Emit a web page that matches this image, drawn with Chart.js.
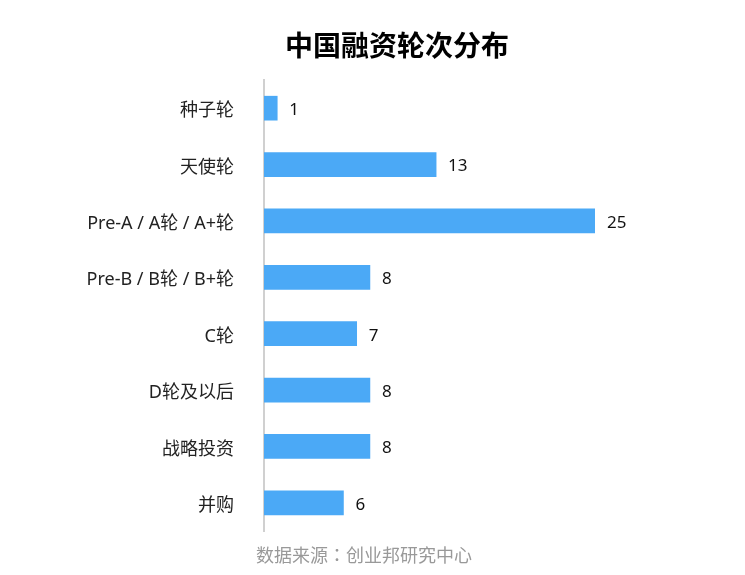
<!DOCTYPE html>
<html>
<head>
<meta charset="utf-8">
<script src="https://cdn.jsdelivr.net/npm/chart.js@4/dist/chart.umd.min.js"></script>
<style>
  html, body { margin: 0; padding: 0; background: #fff; }
  #wrap { width: 745px; height: 575px; }
</style>
</head>
<body>
<div id="wrap"><canvas id="c"></canvas></div>
<script>
// data
const rounds = ['种子轮', '天使轮', 'Pre-A / A轮 / A+轮', 'Pre-B / B轮 / B+轮', 'C轮', 'D轮及以后', '战略投资', '并购']
const counts = [1, 13, 25, 8, 7, 8, 8, 6]
const titleText = '中国融资轮次分布'
const sourceText = '数据来源：创业邦研究中心'

const FONT = '"Noto Sans", "Noto Sans CJK SC", sans-serif'
const CJK = '"Noto Sans CJK SC", sans-serif'

// value labels next to each bar, plus title and source note
const textPlugin = {
    id: 'texts',
    afterDatasetsDraw(chart) {
        const ctx = chart.ctx
        ctx.save()
        ctx.font = '17px ' + FONT
        ctx.fillStyle = '#111'
        ctx.textAlign = 'left'
        ctx.textBaseline = 'middle'
        chart.getDatasetMeta(0).data.forEach((bar, i) => {
            ctx.fillText(String(counts[i]), bar.x + 12, bar.y + 2)
        })

        ctx.textAlign = 'center'
        ctx.font = 'bold 28px ' + CJK
        ctx.fillStyle = '#000'
        ctx.fillText(titleText, 397, 45)

        ctx.font = '18px "Noto Sans CJK TC", sans-serif'
        ctx.fillStyle = '#999'
        ctx.fillText(sourceText, 364, 555)
        ctx.restore()
    }
}

new Chart(document.getElementById('c'), {
    type: 'bar',
    data: {
        labels: rounds,
        datasets: [{
            data: counts,
            backgroundColor: '#4ba9f6',
            barThickness: 24
        }]
    },
    options: {
        indexAxis: 'y',
        responsive: true,
        maintainAspectRatio: false,
        animation: false,
        layout: { padding: { top: 80, bottom: 44, right: 150, left: 0 } },
        plugins: {
            legend: { display: false },
            tooltip: { enabled: false }
        },
        scales: {
            x: {
                display: false,
                min: 0,
                max: 25
            },
            y: {
                afterFit(scale) { scale.width = 264 },
                grid: { display: false, drawTicks: false },
                border: { display: true, color: '#d0d0d0', width: 2 },
                ticks: {
                    padding: 30,
                    labelOffset: 3,
                    color: '#222',
                    font: { family: FONT, size: 18 }
                }
            }
        }
    },
    plugins: [textPlugin]
})
</script>
</body>
</html>
